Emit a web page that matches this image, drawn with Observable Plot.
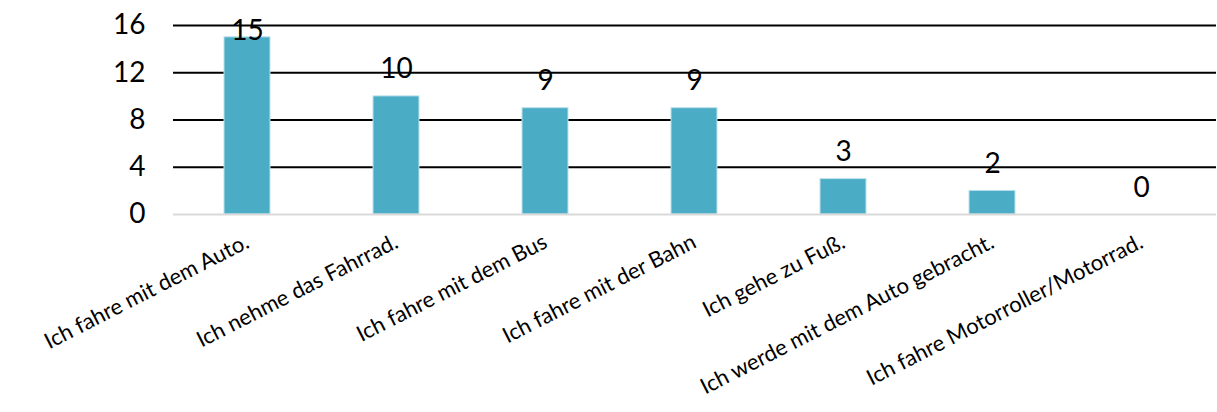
<!DOCTYPE html>
<html>
<head>
<meta charset="utf-8">
<script src="https://cdn.jsdelivr.net/npm/d3@7"></script>
<script src="https://cdn.jsdelivr.net/npm/@observablehq/plot@0.6"></script>
<style>
  html, body { margin: 0; padding: 0; background: #fff; }
  #chart svg { display: block; }
</style>
</head>
<body>
<div id="chart"></div>
<script>
const categories = [
  "Ich fahre mit dem Auto.",
  "Ich nehme das Fahrrad.",
  "Ich fahre mit dem Bus",
  "Ich fahre mit der Bahn",
  "Ich gehe zu Fuß.",
  "Ich werde mit dem Auto gebracht.",
  "Ich fahre Motorroller/Motorrad."
];
const values = [15, 10, 9, 9, 3, 2, 0];
const yTicks = [0, 4, 8, 12, 16];
const gridValues = [4, 8, 12, 16];

const data = categories.map((c, i) => ({category: c, value: values[i]}));
const font = "Lato, 'Open Sans', sans-serif";

const chart = Plot.plot({
  width: 1217,
  height: 412,
  marginLeft: 173,
  marginRight: 1,
  marginTop: 25,
  marginBottom: 198,
  style: {fontFamily: font, color: "#000", background: "#fff"},
  x: {domain: categories, paddingInner: 0.69, paddingOuter: 0.345, label: null},
  y: {domain: [0, 16], label: null},
  marks: [
    Plot.ruleY(gridValues, {stroke: "#000", strokeWidth: 2}),
    Plot.barY(data, {x: "category", y: "value", fill: "#4BACC6", stroke: "#bfe2eb", strokeWidth: 1}),
    Plot.ruleY([0], {stroke: "#d9d9d9", strokeWidth: 2}),
    Plot.axisY(yTicks, {tickSize: 0, tickPadding: 28, fontSize: 28, label: null}),
    Plot.axisX({tickSize: 0, tickPadding: 26, tickRotate: -27, fontSize: 22, label: null}),
    Plot.text(data, {
      x: "category", y: "value", text: d => String(d.value),
      fontSize: 28, lineAnchor: "bottom", fill: "#000",
      render(index, scales, vals, dims, ctx, next) {
        const y = Float64Array.from(vals.y, v => Math.max(v - 18, 39));
        return next(index, scales, {...vals, y}, dims, ctx);
      }
    })
  ]
});
document.getElementById("chart").appendChild(chart);
</script>
</body>
</html>
